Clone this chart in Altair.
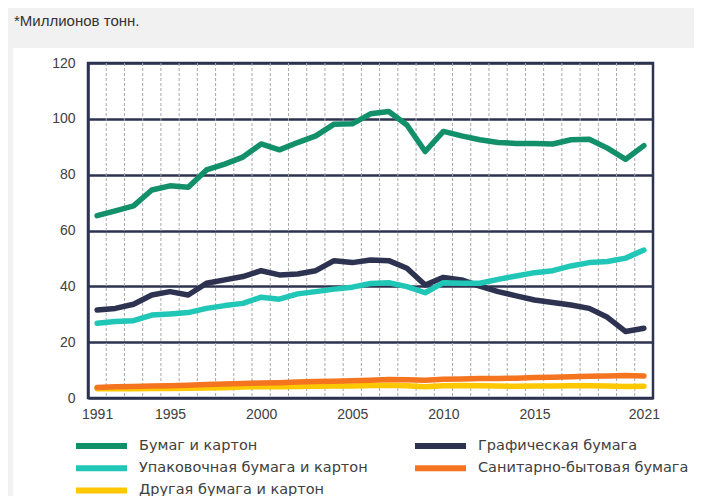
import altair as alt
import pandas as pd

years = list(range(1991, 2022))

series_names = [
    "Бумаг и картон",
    "Графическая бумага",
    "Упаковочная бумага и картон",
    "Санитарно-бытовая бумага",
    "Другая бумага и картон",
]
series_colors = ["#12906a", "#2d3250", "#20c6b6", "#f47420", "#fdc800"]

paper_board = [65.3, 67.0, 68.8, 74.5, 76.0, 75.5, 81.7, 83.8, 86.3, 91.0, 88.9,
               91.5, 93.9, 98.1, 98.2, 101.8, 102.6, 97.8, 88.3, 95.5, 93.9, 92.5,
               91.5, 91.2, 91.2, 91.0, 92.5, 92.7, 89.5, 85.5, 90.4]
graphic = [31.5, 32.1, 33.6, 36.9, 38.1, 36.9, 41.1, 42.3, 43.5, 45.6, 44.1,
           44.4, 45.6, 49.2, 48.5, 49.4, 49.2, 46.5, 40.5, 43.2, 42.3, 40.1,
           38.1, 36.6, 35.1, 34.2, 33.3, 32.1, 28.9, 23.8, 25.0]
packaging = [26.8, 27.4, 27.7, 29.7, 30.1, 30.6, 32.1, 33.1, 33.9, 36.1, 35.4,
             37.3, 38.1, 39.0, 39.7, 41.0, 41.3, 39.9, 37.7, 41.3, 41.1, 41.1,
             42.5, 43.7, 44.9, 45.6, 47.3, 48.5, 48.9, 50.1, 53.0]
sanitary = [3.8, 4.0, 4.1, 4.3, 4.4, 4.6, 4.8, 5.0, 5.2, 5.4, 5.5, 5.7, 5.9,
            6.0, 6.2, 6.4, 6.6, 6.5, 6.4, 6.7, 6.8, 7.0, 7.0, 7.1, 7.3, 7.4,
            7.6, 7.8, 7.9, 8.1, 7.9]
other = [3.3, 3.3, 3.3, 3.4, 3.4, 3.5, 3.6, 3.7, 3.9, 4.1, 4.0, 4.1, 4.2, 4.3,
         4.3, 4.5, 4.6, 4.4, 4.0, 4.4, 4.5, 4.4, 4.3, 4.2, 4.3, 4.3, 4.4, 4.4,
         4.3, 4.1, 4.2]

x_tick_values = [1991, 1995, 2000, 2005, 2010, 2015, 2021]
y_tick_values = [0, 20, 40, 60, 80, 100, 120]
unit_note = "*Миллионов тонн."

# draw order: teal last so it sits over the navy line
draw_order = [(series_names[0], paper_board), (series_names[1], graphic),
              (series_names[4], other), (series_names[3], sanitary),
              (series_names[2], packaging)]
rows = []
for name, vals in draw_order:
    for y, v in zip(years, vals):
        rows.append({"year": y, "value": v, "series": name})
df = pd.DataFrame(rows)

grid_df = pd.DataFrame({"year": [y + 0.5 for y in years[:-1]]})

NAVY = "#2d3250"
W, H = 565, 335
xscale = alt.Scale(domain=[years[0] - 0.5, years[-1] + 0.5], nice=False, zero=False)
yscale = alt.Scale(domain=[0, 120], nice=False)
xaxis = alt.Axis(values=x_tick_values, format="d", grid=False, ticks=False,
                 domain=False, labelFontSize=14, labelColor="#404040",
                 labelFont="Liberation Sans", labelPadding=9)

# gray page decoration (outside the plot area)
deco = pd.DataFrame({"k": [0]})
top_band = alt.Chart(deco).mark_rect(color="#f1f1f1").encode(
    x=alt.value(-90), x2=alt.value(W + 50), y=alt.value(-70), y2=alt.value(-15))
left_band = alt.Chart(deco).mark_rect(color="#f1f1f1").encode(
    x=alt.value(-90), x2=alt.value(-75), y=alt.value(-70), y2=alt.value(H + 110))
note = alt.Chart(deco).mark_text(
    text=unit_note, align="left", baseline="alphabetic", font="Liberation Sans",
    fontSize=15, color="#333333").encode(x=alt.value(-74), y=alt.value(-37))

vgrid = alt.Chart(grid_df).mark_rule(
    color="#a8a8a8", strokeDash=[3, 2], strokeWidth=1).encode(
    x=alt.X("year:Q", scale=xscale, title=None, axis=xaxis))

lines = alt.Chart(df).mark_line(strokeWidth=5.5, strokeCap="round", strokeJoin="round").encode(
    x=alt.X("year:Q", scale=xscale, title=None, axis=xaxis),
    y=alt.Y("value:Q", scale=yscale, title=None,
            axis=alt.Axis(values=y_tick_values, grid=True, gridColor=NAVY, gridWidth=2.5,
                          gridOpacity=1, ticks=False, domain=True, domainColor=NAVY,
                          domainWidth=2.5, labelFontSize=14, labelColor="#404040",
                          labelFont="Liberation Sans", labelPadding=13)),
    color=alt.Color("series:N", scale=alt.Scale(domain=series_names, range=series_colors),
                    legend=alt.Legend(title=None, orient="none", legendX=5.5, legendY=375,
                                      columns=2, direction="horizontal",
                                      symbolType="M-5.1,0H5.1", symbolSize=100,
                                      symbolStrokeWidth=6, symbolFillColor="transparent",
                                      labelFontSize=14.5,
                                      labelFont="DejaVu Sans", labelColor="#404040",
                                      labelOffset=29.5, rowPadding=-1.8, columnPadding=34,
                                      labelLimit=400, padding=0)),
    detail="series:N",
)

chart = alt.layer(top_band, left_band, note, vgrid, lines).properties(
    width=W, height=H,
    autosize=alt.AutoSizeParams(type="none"),
    padding={"left": 80, "top": 55, "right": 41, "bottom": 98},
    background="white",
).configure_view(stroke=NAVY, strokeWidth=2.5)

chart.save("out.html", embed_options={"renderer": "svg", "actions": False})
